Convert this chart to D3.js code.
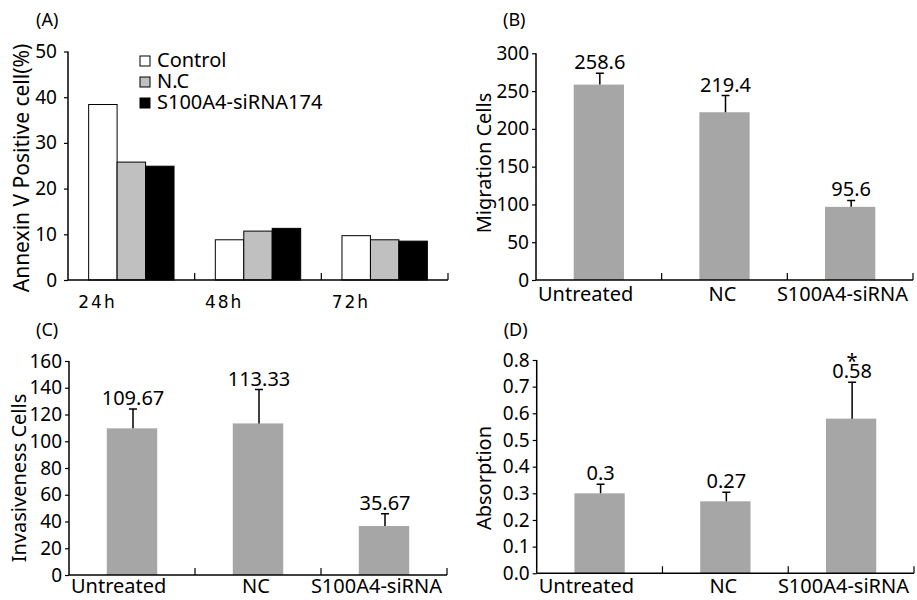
<!DOCTYPE html>
<html>
<head>
<meta charset="utf-8">
<script src="https://cdn.jsdelivr.net/npm/d3@7"></script>
<style>
  body { margin: 0; background: #fff; }
  text { font-family: "Noto Sans", sans-serif; fill: #000; }
</style>
</head>
<body>
<div id="chart"></div>
<script>
// panel A: annexin V positive cells, grouped by time
var timePoints = ["24h", "48h", "72h"];
var groupsA = ["Control", "N.C", "S100A4-siRNA174"];
var controlVals = [38.4, 8.8, 9.7];
var ncVals = [25.8, 10.7, 8.8];
var sirnaVals = [24.9, 11.3, 8.5];
var ticksA = [0, 10, 20, 30, 40, 50];

// panels B, C, D share categories
var categories = ["Untreated", "NC", "S100A4-siRNA"];

var migration = [258.6, 222, 96.8];
var migrationErr = [15, 22, 8.5];
var migrationLabels = ["258.6", "219.4", "95.6"];
var ticksB = [0, 50, 100, 150, 200, 250, 300];

var invasion = [109.67, 113.33, 36.6];
var invasionErr = [14.5, 25.3, 9.2];
var invasionLabels = ["109.67", "113.33", "35.67"];
var ticksC = [0, 20, 40, 60, 80, 100, 120, 140, 160];

var absorption = [0.3, 0.27, 0.58];
var absorptionErr = [0.034, 0.034, 0.137];
var absorptionLabels = ["0.3", "0.27", "0.58"];
var absorptionStars = ["", "", "*"];
var ticksD = [0, 0.1, 0.2, 0.3, 0.4, 0.5, 0.6, 0.7, 0.8];

var W = 917, H = 600;
var svg = d3.select("#chart").append("svg")
    .attr("width", W)
    .attr("height", H);

var colorA = d3.scaleOrdinal().domain(groupsA).range(["#ffffff", "#c0c0c0", "#000000"]);

// common axis drawing
function drawAxes(g, x, y, ticks, fmt, pad) {
    var r = x.range();
    var yr = y.range();
    g.append("g")
        .attr("transform", "translate(" + r[0] + ",0)")
        .call(d3.axisLeft(y).tickValues(ticks).tickSize(4).tickPadding(pad).tickFormat(fmt))
        .call(function(a) {
            a.select(".domain").attr("stroke-width", 1.5).attr("d", "M0," + yr[1] + "V" + yr[0]);
            a.selectAll(".tick line").attr("stroke-width", 1.2);
            a.selectAll(".tick text").style("font-family", "Noto Sans").style("font-size", "19px");
        });
    // baseline with upward ticks at category boundaries
    g.append("line")
        .attr("x1", r[0]).attr("x2", r[1])
        .attr("y1", yr[0]).attr("y2", yr[0])
        .attr("stroke", "#000").attr("stroke-width", 1.5);
    g.selectAll(".xt")
        .data(x.domain())
        .enter().append("line")
        .attr("x1", function(d) { return x(d) + x.bandwidth(); })
        .attr("x2", function(d) { return x(d) + x.bandwidth(); })
        .attr("y1", yr[0]).attr("y2", yr[0] - 7)
        .attr("stroke", "#000").attr("stroke-width", 1.2);
}

// ---------- panel A ----------
var gA = svg.append("g");
var xA = d3.scaleBand().domain(timePoints).range([68, 448]);
var yA = d3.scaleLinear().domain([0, 50]).range([280, 51.5]);
var xSub = d3.scaleBand().domain(groupsA)
    .range([xA.bandwidth() * 0.163, xA.bandwidth() * 0.837]);
var tableA = timePoints.map(function(t, i) {
    return [
        { t: t, g: groupsA[0], v: controlVals[i] },
        { t: t, g: groupsA[1], v: ncVals[i] },
        { t: t, g: groupsA[2], v: sirnaVals[i] }
    ];
});

gA.selectAll(".grp")
    .data(tableA)
    .enter().append("g")
    .attr("transform", function(d) { return "translate(" + xA(d[0].t) + ",0)"; })
    .selectAll("rect")
    .data(function(d) { return d; })
    .enter().append("rect")
    .attr("x", function(d) { return xSub(d.g); })
    .attr("width", xSub.bandwidth())
    .attr("y", function(d) { return yA(d.v); })
    .attr("height", function(d) { return yA(0) - yA(d.v); })
    .attr("fill", function(d) { return colorA(d.g); })
    .attr("stroke", "#000")
    .attr("stroke-width", 1);

drawAxes(gA, xA, yA, ticksA, d3.format("d"), 7);

gA.selectAll(".xl")
    .data(timePoints)
    .enter().append("text")
    .attr("x", function(d) { return xA(d) + xA.bandwidth() * 0.233; })
    .attr("y", 308)
    .attr("text-anchor", "middle")
    .style("font-family", "DejaVu Sans")
    .style("font-size", "17px")
    .style("letter-spacing", "2px")
    .text(function(d) { return d; });

var legend = gA.selectAll(".leg")
    .data(groupsA)
    .enter().append("g")
    .attr("transform", function(d, i) { return "translate(140," + (56 + i * 21) + ")"; });
legend.append("rect")
    .attr("width", 10).attr("height", 10)
    .attr("fill", function(d) { return colorA(d); })
    .attr("stroke", "#000").attr("stroke-width", 1);
legend.append("text")
    .attr("x", 17).attr("y", 11)
    .style("font-size", "20px")
    .text(function(d) { return d; });

gA.append("text")
    .attr("transform", "translate(29,168) rotate(-90)")
    .attr("text-anchor", "middle")
    .style("font-size", "21px")
    .text("Annexin V Positive cell(%)");

gA.append("text").attr("x", 36).attr("y", 26).style("font-size", "18px").text("(A)");

// ---------- panels B, C, D ----------
function barPanel(opt) {
    var g = svg.append("g");
    var x = d3.scaleBand().domain(categories).range([opt.left, opt.right]);
    var y = d3.scaleLinear().domain([0, opt.max]).range([opt.bottom, opt.top]);
    var bw = x.bandwidth() * 0.4;
    var cx = function(d, i) { return x(categories[i]) + x.bandwidth() / 2; };

    g.selectAll("rect.bar")
        .data(opt.values)
        .enter().append("rect")
        .attr("class", "bar")
        .attr("x", function(d, i) { return cx(d, i) - bw / 2; })
        .attr("width", bw)
        .attr("y", function(d) { return y(d); })
        .attr("height", function(d) { return y(0) - y(d); })
        .attr("fill", "#a6a6a6");

    // error bars (upper only)
    g.selectAll(".eb")
        .data(opt.values)
        .enter().append("path")
        .attr("d", function(d, i) {
            var xc = cx(d, i) + 1, yt = y(d + opt.err[i]);
            return "M" + xc + "," + y(d) + "V" + yt + "M" + (xc - 4) + "," + yt + "H" + (xc + 4);
        })
        .attr("stroke", "#000").attr("stroke-width", 1.5).attr("fill", "none");

    g.selectAll(".vl")
        .data(opt.values)
        .enter().append("text")
        .attr("x", function(d, i) { return cx(d, i) + 1; })
        .attr("y", function(d, i) { return y(d + opt.err[i]) - 4; })
        .attr("text-anchor", "middle")
        .style("font-size", "20px")
        .text(function(d, i) { return opt.labels[i]; });

    if (opt.stars) {
        // significance mark sits just above the value label
        g.selectAll(".st")
            .data(opt.values)
            .enter().append("text")
            .attr("x", function(d, i) { return cx(d, i) + 1; })
            .attr("y", function(d, i) { return y(d + opt.err[i]) - 4 - 10; })
            .attr("text-anchor", "middle")
            .style("font-size", "20px")
            .text(function(d, i) { return opt.stars[i]; });
    }

    drawAxes(g, x, y, opt.ticks, opt.fmt, 3);

    var anchors = ["start", "middle", "end"];
    g.selectAll(".xl")
        .data(categories)
        .enter().append("text")
        .attr("x", function(d, i) {
            if (i == 0) return opt.left + 2;
            if (i == 2) return opt.right - 5;
            return x(d) + x.bandwidth() / 2 - 2;
        })
        .attr("y", opt.bottom + opt.labelDy)
        .attr("text-anchor", function(d, i) { return anchors[i]; })
        .style("font-size", "20px")
        .text(function(d) { return d; });

    g.append("text")
        .attr("transform", "translate(" + opt.titleX + "," + opt.titleY + ") rotate(-90)")
        .attr("text-anchor", "middle")
        .style("font-size", "20px")
        .text(opt.title);

    g.append("text").attr("x", opt.left - 33).attr("y", opt.tagY).style("font-size", "18px").text(opt.tag);
    return g;
}

barPanel({
    left: 536, right: 913, top: 53.3, bottom: 280, max: 300,
    values: migration, err: migrationErr, labels: migrationLabels,
    ticks: ticksB, fmt: d3.format("d"), labelDy: 21,
    title: "Migration Cells", titleX: 491, titleY: 163,
    tag: "(B)", tagY: 26
});

barPanel({
    left: 69, right: 447, top: 361, bottom: 575, max: 160,
    values: invasion, err: invasionErr, labels: invasionLabels,
    ticks: ticksC, fmt: d3.format("d"), labelDy: 18,
    title: "Invasiveness Cells", titleX: 26, titleY: 478,
    tag: "(C)", tagY: 336
});

barPanel({
    left: 536.7, right: 914, top: 360, bottom: 573.3, max: 0.8,
    values: absorption, err: absorptionErr, labels: absorptionLabels, stars: absorptionStars,
    ticks: ticksD, fmt: d3.format(".1f"), labelDy: 19.5,
    title: "Absorption", titleX: 491, titleY: 478,
    tag: "(D)", tagY: 336
});
</script>
</body>
</html>
